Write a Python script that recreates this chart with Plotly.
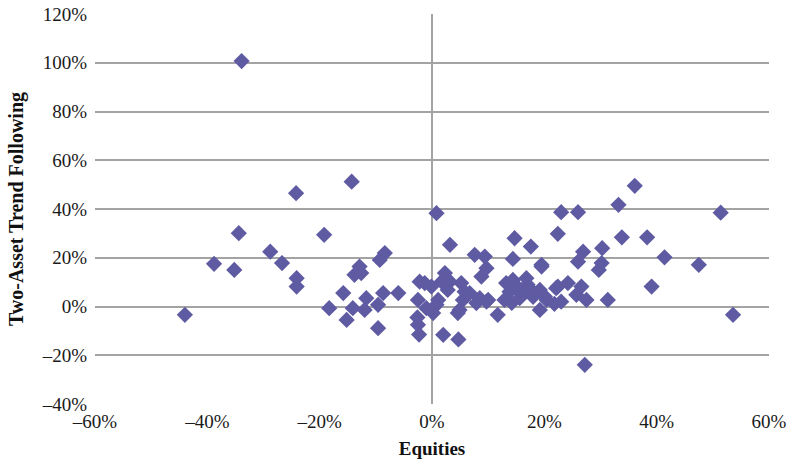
import plotly.graph_objects as go

# Annual returns: equities vs. two-asset trend following (percent)
equities = [
    -44.0, -38.8, -35.2, -34.4, -33.9, -28.8, -26.7, -24.2, -24.1, -24.1,
    -19.2, -18.3, -15.8, -15.2, -14.3, -14.1, -13.8, -12.9, -12.6, -11.7,
    -12.0, -9.6, -9.6, -9.3, -8.4, -8.7, -6.0,
    -2.2, -1.3, -2.5, -1.0, -2.6, -2.5, -2.3,
    0.8, 0.8, 1.1, 2.3, 1.7, 3.2, 5.2, 5.8, 2.8, 4.9, 4.6, 0.2,
    2.0, 4.7, 3.2, 7.6, 9.4, 9.7, 8.8, 6.7, 5.5, 7.9, 9.7, 11.7, -0.1,
    10.0, 8.5, 14.4, 19.5, 14.4, 13.8, 16.8, 12.9, 15.6, 17.4, 19.2, 20.4,
    19.2, 22.1, 23.0, 13.2, 15.0, 16.0, 18.0, 14.2, 17.0,
    14.7, 17.6, 19.5,
    36.1, 33.2, 23.0, 26.0, 22.4, 33.8, 38.3, 41.4, 30.3, 26.9, 26.0,
    30.2, 29.7, 39.1, 24.2, 22.4, 26.6, 25.7, 27.5, 31.3, 20.1, 21.8,
    27.2, 51.4, 47.5, 53.6,
]
trend_following = [
    -3.4, 17.5, 15.0, 30.1, 100.7, 22.5, 17.8, 46.5, 11.6, 8.2,
    29.4, -0.7, 5.5, -5.5, 51.2, -0.7, 13.0, 16.4, 13.7, 3.4,
    -1.4, 0.7, -8.9, 19.1, 21.9, 5.5, 5.5,
    10.2, 9.6, 2.7, -0.7, -4.5, -7.5, -11.5,
    38.3, 0.7, 2.7, 13.7, 10.2, 10.2, 9.6, 6.1, 6.8, -1.4, -2.7, -2.7,
    -11.6, -13.5, 25.3, 21.2, 20.5, 15.7, 12.3, 5.5, 2.7, 1.4, 2.0, -3.4, 8.2,
    2.7, 3.4, 19.5, 16.4, 10.9, 6.1, 11.6, 2.7, 3.4, 7.5, 6.8, 2.7,
    -1.4, 7.5, 2.0, 9.6, 8.5, 5.0, 4.0, 1.5, 9.0,
    28.0, 24.6, 17.1,
    49.5, 41.7, 38.7, 38.7, 29.8, 28.4, 28.4, 20.2, 23.9, 22.5, 18.4,
    17.8, 15.0, 8.2, 9.6, 8.2, 8.2, 4.8, 2.7, 2.7, 4.1, 1.1,
    -23.9, 38.5, 17.1, -3.4,
]

x_ticks = [-60, -40, -20, 0, 20, 40, 60]
x_labels = ["–60%", "–40%", "–20%", "0%", "20%", "40%", "60%"]
y_ticks = [-40, -20, 0, 20, 40, 60, 80, 100, 120]
y_labels = ["–40%", "–20%", "0%", "20%", "40%", "60%", "80%", "100%", "120%"]

serif = "Liberation Serif, Times New Roman, serif"
grid = "#a3a3a3"

fig = go.Figure(
    go.Scatter(
        x=equities,
        y=trend_following,
        mode="markers",
        marker=dict(symbol="diamond", size=12.5, color="#5f5ba3", line=dict(width=0)),
        hoverinfo="x+y",
    )
)

fig.update_layout(
    width=787,
    height=460,
    margin=dict(l=95, r=18, t=14, b=56),
    paper_bgcolor="white",
    plot_bgcolor="white",
    showlegend=False,
    font=dict(family=serif, size=19, color="#1a1a1a"),
)

fig.update_xaxes(
    range=[-60, 60],
    tickvals=x_ticks,
    ticktext=x_labels,
    showgrid=False,
    zeroline=True,
    zerolinecolor=grid,
    zerolinewidth=2,
    showline=False,
    ticks="",
    ticklabelstandoff=4,
    automargin=False,
    title=dict(text="<b>Equities</b>", font=dict(family=serif, size=19, color="#111111"), standoff=10),
)

fig.update_yaxes(
    range=[-40, 120],
    tickvals=y_ticks,
    ticktext=y_labels,
    showgrid=True,
    gridcolor=grid,
    gridwidth=2,
    zeroline=True,
    zerolinecolor=grid,
    zerolinewidth=2,
    showline=False,
    ticks="",
    ticklabelstandoff=7,
    automargin=False,
    title=dict(text="<b>Two-Asset Trend Following</b>", font=dict(family=serif, size=20, color="#111111"), standoff=12),
)

fig.write_html("out.html")
